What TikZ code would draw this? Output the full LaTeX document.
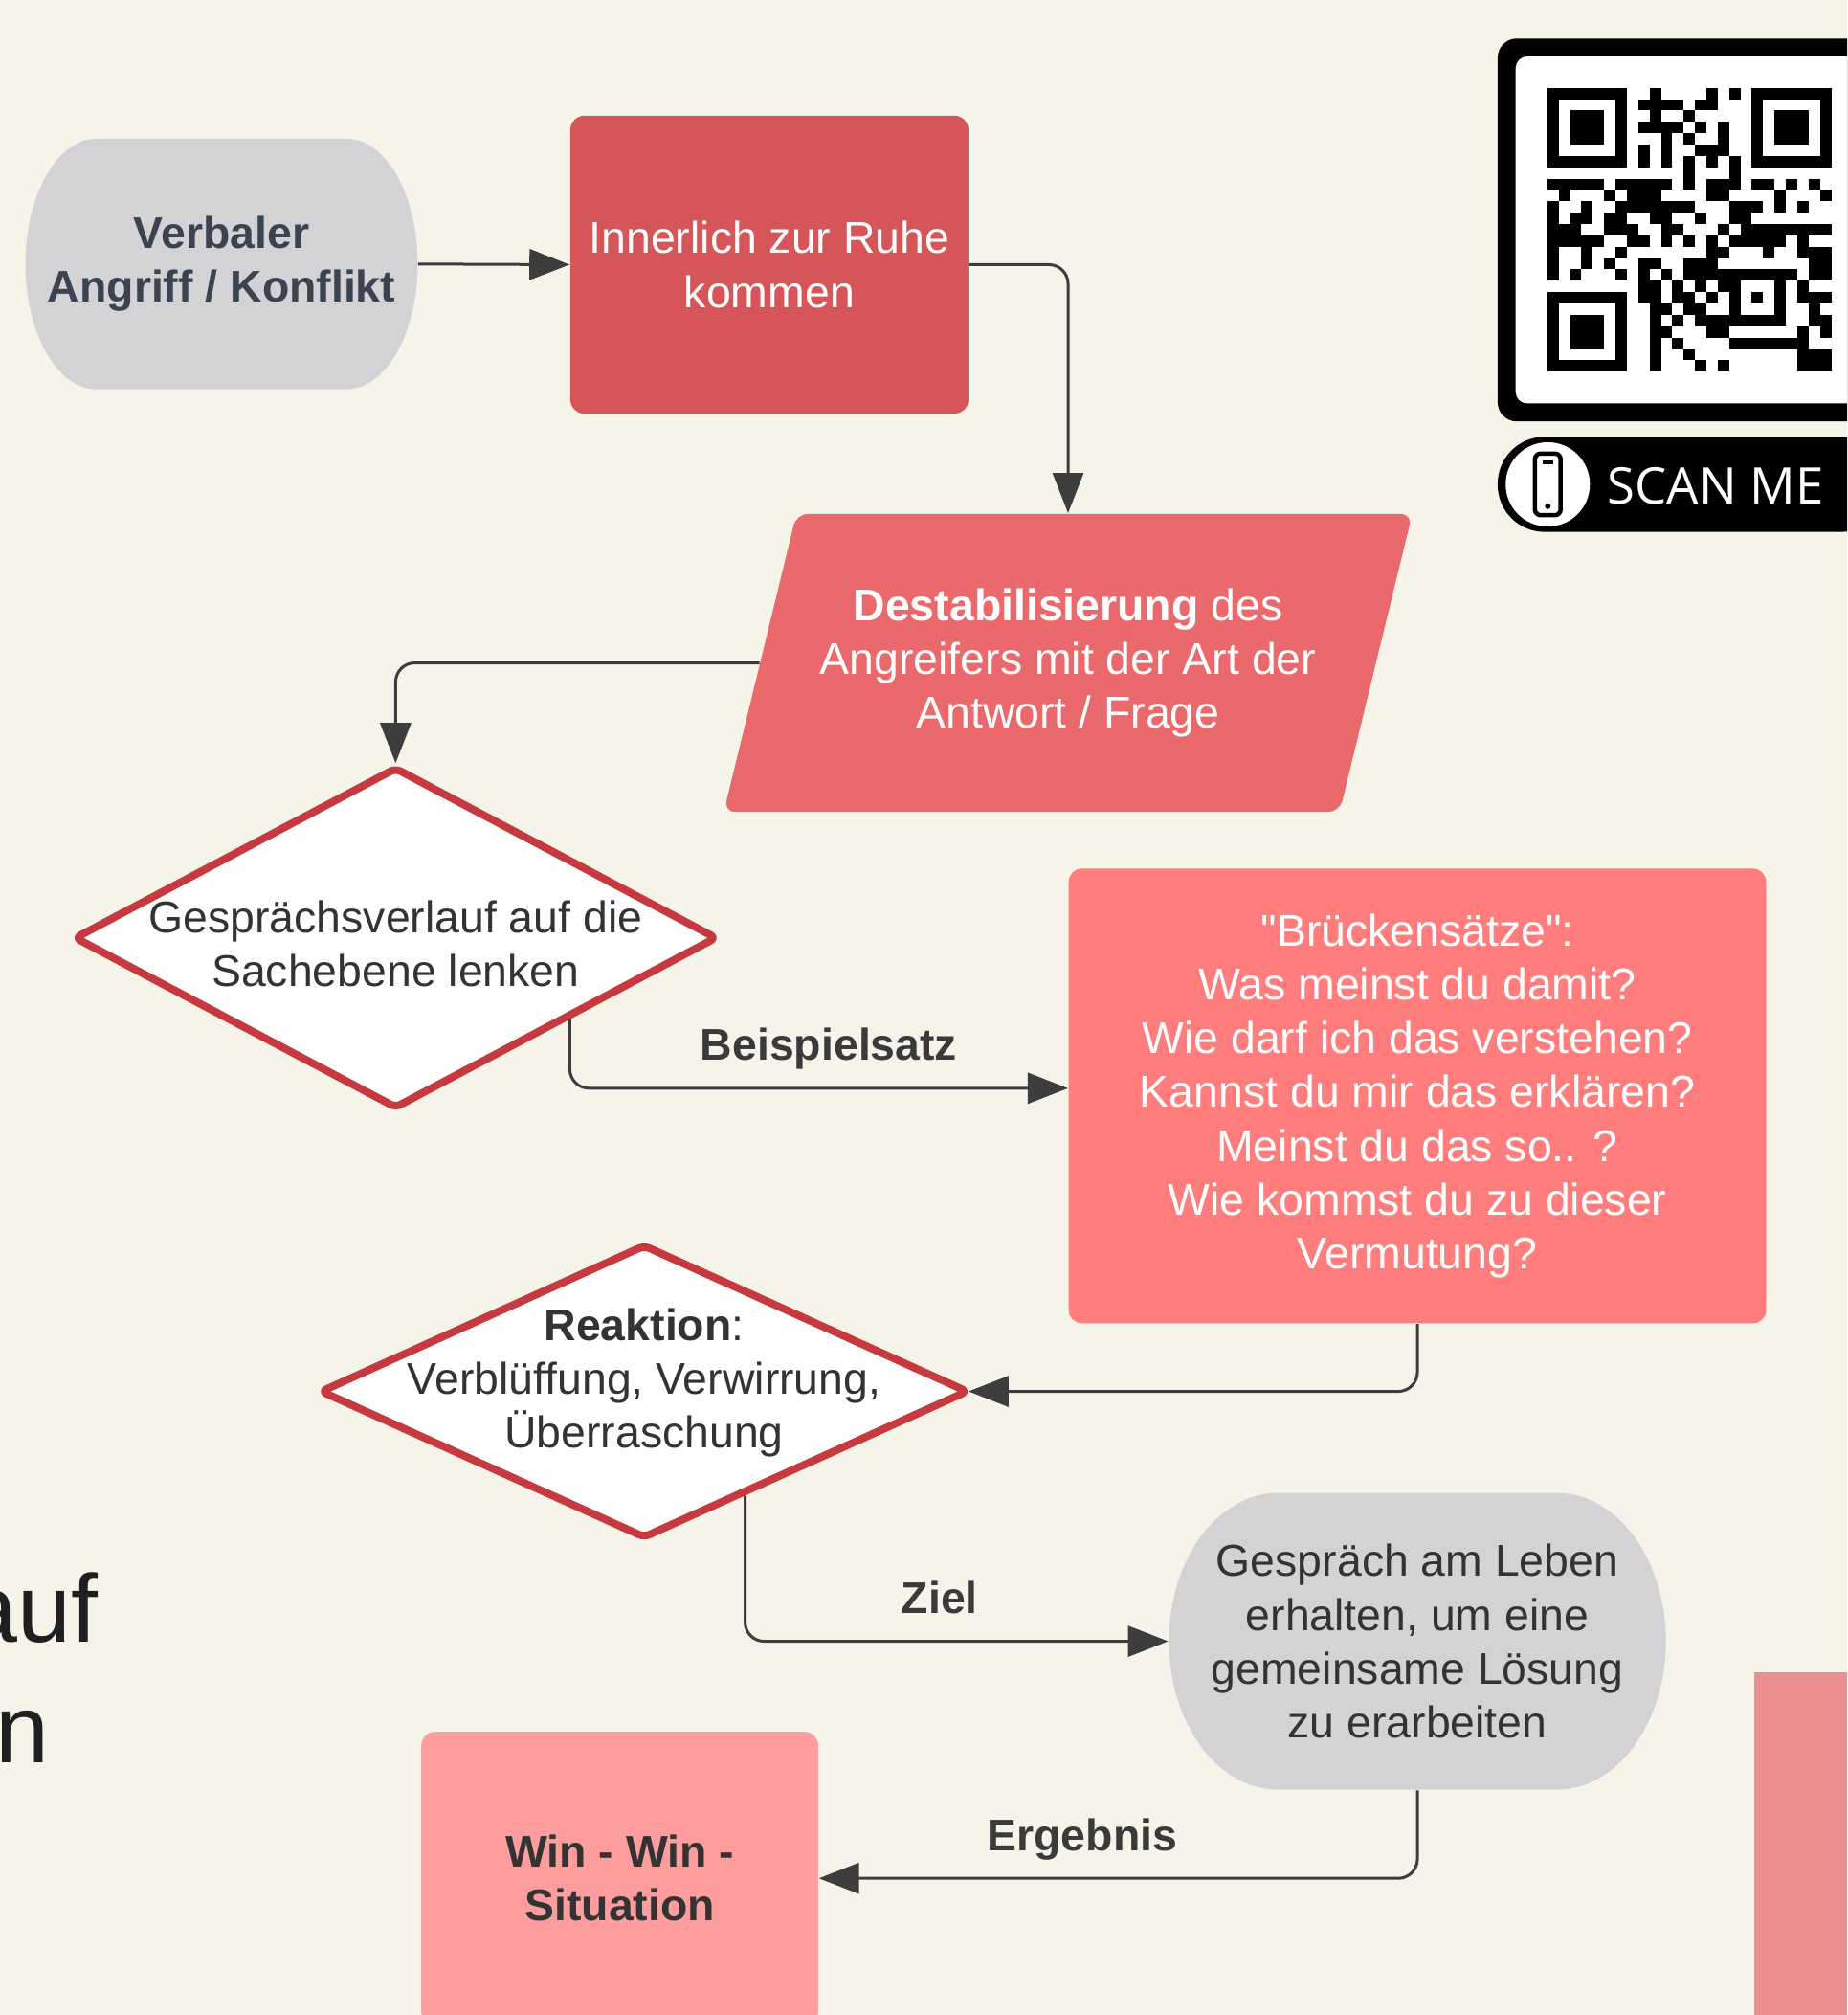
\documentclass[tikz,border=0pt]{standalone}
\usepackage{fontspec}
\setmainfont{Liberation Sans}
\newfontfamily\diafam{Liberation Sans}
\newfontfamily\scanfont{Open Sans}
\usetikzlibrary{arrows.meta}
\usetikzlibrary{shapes.geometric}

\definecolor{bgcream}{HTML}{F6F4E9}
\definecolor{pillgrey}{HTML}{D3D3D6}
\definecolor{slate}{HTML}{3A4350}
\definecolor{ruhered}{HTML}{D65558}
\definecolor{destred}{HTML}{E9696C}
\definecolor{brueckred}{HTML}{FF7D7D}
\definecolor{diared}{HTML}{C63A3F}
\definecolor{winpink}{HTML}{FE9D9D}
\definecolor{sidepink}{HTML}{EB8E8F}
\definecolor{textdark}{HTML}{333333}
\definecolor{labelgrey}{HTML}{3A3A3A}
\definecolor{arrowgrey}{HTML}{3D3D3D}
\definecolor{nearblack}{HTML}{1F1F1F}

\newcommand\DiaFont{\diafam\fontsize{13.2}{16}\selectfont}

\begin{document}
\begin{tikzpicture}[x=0.1342mm,y=-0.1342mm,
  every node/.style={font=\DiaFont,align=center},
  terminal/.style={rectangle,inner sep=0pt},
  process/.style={rectangle,rounded corners=1.5mm,inner sep=0pt},
  decision/.style={diamond,draw=diared,line width=0.8mm,line join=round,rounded corners=0.6mm,fill=white,inner sep=0pt},
  arrowline/.style={draw=arrowgrey,line width=0.3mm,rounded corners=2mm,-{Triangle[length=4.2mm,width=3.2mm]}},
  arrowlabel/.style={font=\DiaFont\bfseries,text=labelgrey,anchor=base,yshift=2.9mm,pos=#1}]

\def \PixSize {0.1342mm}
\def \QRx {1204.7}
\def \QRy {68.3}
\def \QRm {8.84}

\useasboundingbox (0,0) rectangle (1438,1568.4);
\fill[bgcream] (0,0) rectangle (1438,1568.4);
\clip (0,0) rectangle (1438,1568.4);

\node[font=\diafam\fontsize{28.6}{37}\selectfont,text=nearblack,anchor=base east,inner sep=0pt] (auf) at (77,1278) {auf};
\node[font=\diafam\fontsize{28.6}{37}\selectfont,text=nearblack,anchor=base east,inner sep=0pt] (lenkn) at (39,1372) {n};
\fill[sidepink] (1366,1302) rectangle (1460,1600);

% grey terminals with elliptic ends
\fill[pillgrey] (75,108) -- (270,108) arc[start angle=90,end angle=-90,x radius=7.4mm,y radius=13.08mm]
  -- (75,303) arc[start angle=270,end angle=90,x radius=7.4mm,y radius=13.08mm] -- cycle;
\fill[pillgrey] (995,1162) -- (1212,1162) arc[start angle=90,end angle=-90,x radius=11.4mm,y radius=15.5mm]
  -- (995,1393) arc[start angle=270,end angle=90,x radius=11.4mm,y radius=15.5mm] -- cycle;

\node[terminal,text=slate,font=\DiaFont\bfseries,minimum width=305*\PixSize,minimum height=195*\PixSize] (angriff) at (172.5,205.5) {Verbaler\\Angriff / Konflikt};
\node[process,fill=ruhered,text=white,minimum width=310*\PixSize,minimum height=232*\PixSize] (ruhe) at (599,206) {Innerlich zur Ruhe\\kommen};
\node[trapezium,trapezium left angle=66,trapezium right angle=114,trapezium stretches=true,rounded corners=1.2mm,
  fill=destred,text=white,inner sep=0pt,minimum width=537*\PixSize,minimum height=232*\PixSize] (destab) at (831.5,516)
  {\textbf{Destabilisierung} des\\Angreifers mit der Art der\\Antwort / Frage};
\node[decision,minimum width=501*\PixSize,minimum height=266*\PixSize,
  label={[text=textdark,yshift=-0.6mm]center:Gesprächsverlauf auf die\\Sachebene lenken}] (sach) at (308,730) {};
\node[process,rounded corners=1.4mm,fill=brueckred,text=white,minimum width=543*\PixSize,minimum height=354*\PixSize] (brueck) at (1103.5,853)
  {"Brückensätze":\\Was meinst du damit?\\Wie darf ich das verstehen?\\Kannst du mir das erklären?\\Meinst du das so.. ?\\Wie kommst du zu dieser\\Vermutung?};
\node[decision,minimum width=505*\PixSize,minimum height=229*\PixSize,
  label={[text=textdark,yshift=0.9mm]center:\textbf{Reaktion}:\\Verblüffung, Verwirrung,\\Überraschung}] (reakt) at (501.5,1083) {};
\node[terminal,text=textdark,minimum width=387*\PixSize,minimum height=231*\PixSize] (gespr) at (1103.5,1277.5)
  {Gespräch am Leben\\erhalten, um eine\\gemeinsame Lösung\\zu erarbeiten};
\node[process,rounded corners=1.4mm,fill=winpink,text=textdark,font=\DiaFont\bfseries,
  minimum width=309*\PixSize,minimum height=228*\PixSize] (win) at (482.5,1462) {Win - Win -\\Situation};

\draw[arrowline] (angriff.east) -- (ruhe.west);
\draw[arrowline] (ruhe.east) -| (destab.north);
\draw[arrowline] (destab.west) -| (sach.north);
\draw[arrowline] (sach.-25) |- ([yshift=0.8mm]brueck.west) node[arrowlabel=0.76] {Beispielsatz};
\draw[arrowline] (brueck.south) |- ([xshift=-0.4mm]reakt.east);
\draw[arrowline] (reakt.-46) |- (gespr.west) node[arrowlabel=0.73] {Ziel};
\draw[arrowline] (gespr.south) |- (win.east) node[arrowlabel=0.78] {Ergebnis};

\fill[black,rounded corners=2mm] (1166,30) rectangle (1470,328);
\fill[white,rounded corners=1.2mm] (1180,44) rectangle (1470,314);
\foreach \fx/\fy in {0/0,18/0,0/18} {
  \fill (\QRx+\fx*\QRm,\QRy+\fy*\QRm) rectangle ++(7*\QRm,7*\QRm);
  \fill[white] (\QRx+\fx*\QRm+\QRm,\QRy+\fy*\QRm+\QRm) rectangle ++(5*\QRm,5*\QRm);
  \fill (\QRx+\fx*\QRm+2*\QRm,\QRy+\fy*\QRm+2*\QRm) rectangle ++(3*\QRm,3*\QRm);
}
\foreach \qrow/\qcols in {0/{9,14,16},1/{8,9,10,11,13,14},2/{9,12},3/{8,9,10,11,13,15},4/{10,12,15},
  5/{8,10,13,14,15},6/{8,10,12,14,16},7/{12,16},
  8/{0,1,2,3,4,6,7,8,9,10,12,14,15,16,18,19,21,23},9/{1,5,7,8,9,14,15,20,24},
  10/{0,3,6,7,8,9,10,11,12,16,17,18,20,22},11/{0,2,3,5,6,9,10,13,16,17},
  12/{0,1,2,5,6,7,10,11,15,17,18,19,20,21,22,23,24},13/{0,1,2,3,4,7,8,10,12,14,16,17,18,19,20,22},
  14/{0,3,6,14,15,19,22,23,24},15/{0,3,5,8,9,12,13,14,23,24},
  16/{0,2,6,8,10,12,13,14,15,16,17,18,19,20,21,23,24},17/{8,9,11,13,15,16,20,22},
  18/{8,9,11,12,14,16,18,20,22,23,24},19/{9,10,12,13,16,20,23},
  20/{9,11,13,14,15,16,17,18,19,20,23,24},21/{9,10,14,15,22,24},
  22/{9,11,16,17,18,19,20,21,22},23/{9,12,22,23,24},24/{9,13,15,22,23,24}}
  \foreach \qcol in \qcols
    \fill (\QRx+\qcol*\QRm,\QRy+\qrow*\QRm) rectangle ++(\QRm,\QRm);

\fill[black,rounded corners=4.9mm] (1166,340) rectangle (1470,414);
\fill[white] (1205,377) circle[radius=4.4mm];
\draw[black,line width=0.45mm,rounded corners=0.6mm] (1195,353) rectangle (1215,401);
\draw[black,line width=0.4mm] (1201,360) -- (1209,360);
\fill[black] (1205,394) circle[radius=0.3mm];
\node[font=\scanfont\fontsize{15}{18}\selectfont,text=white,anchor=west,inner sep=0pt] (scanme) at (1251,378) {SCAN ME};

\end{tikzpicture}
\end{document}
